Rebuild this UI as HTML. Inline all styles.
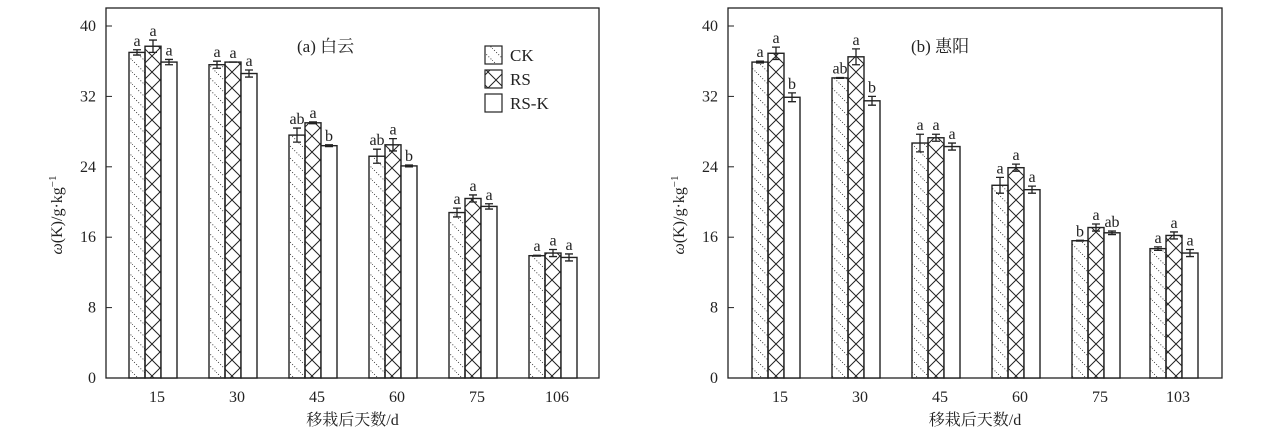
<!DOCTYPE html><html><head><meta charset="utf-8"><style>body{margin:0;background:#fff}svg{display:block}text{font-family:"Liberation Serif","Noto Serif CJK SC",serif;fill:#222}</style></head><body>
<svg id="s" width="1269" height="446" xmlns="http://www.w3.org/2000/svg">
<defs>
<pattern id="ck" patternUnits="userSpaceOnUse" width="12" height="12"><line x1="0" y1="0" x2="12" y2="12" stroke="#333" stroke-width="0.9" stroke-dasharray="1 2"/></pattern>
<pattern id="rs" patternUnits="userSpaceOnUse" width="16" height="16" x="0" y="0"><path d="M0 0L16 16M16 0L0 16" stroke="#222" stroke-width="1"/></pattern>
</defs>
</svg>
<script>
const s=document.getElementById('s');let h='';
function chart(ax,right,centers,labels,data,title,tx){
 const y=v=>378-v*8.8;
 h+=`<rect x="${ax}" y="8" width="${right-ax}" height="370" fill="none" stroke="#222" stroke-width="1.3"/>`;
 for(let v=0;v<=40;v+=8){h+=`<line x1="${ax}" x2="${ax+6}" y1="${y(v)}" y2="${y(v)}" stroke="#222"/><text x="${ax-10}" y="${y(v)+5}" font-size="16" text-anchor="end">${v}</text>`;}
 h+=`<text x="${tx}" y="52" font-size="17">${title}</text>`;
 centers.forEach((c,i)=>{
  h+=`<text x="${c+4}" y="402" font-size="16" text-anchor="middle">${labels[i]}</text>`;
  data[i].forEach((d,j)=>{const[v,e,l]=d;const x=c-24+j*16;const fill=['url(#ck)','url(#rs)','#fff'][j];
   h+=`<rect x="${x}" y="${y(v)}" width="16" height="${378-y(v)}" fill="${fill}" stroke="#222" stroke-width="1.4"/>`;
   const cx=x+8;h+=`<path d="M${cx} ${y(v+e)}V${y(v-e)}M${cx-4} ${y(v+e)}H${cx+4}M${cx-4} ${y(v-e)}H${cx+4}" stroke="#222" stroke-width="1.3"/>`;
   h+=`<text x="${cx}" y="${y(v+e)-4}" font-size="16" text-anchor="middle">${l}</text>`;});
 });
 h+=`<text x="${(ax+right)/2}" y="425" font-size="16" text-anchor="middle">移栽后天数/d</text>`;
 h+=`<text transform="translate(${ax-44},215) rotate(-90)" font-size="16" text-anchor="middle"><tspan font-style="italic">ω</tspan>(K)/g·kg<tspan dy="-6" font-size="11">−1</tspan></text>`;
}
chart(106,599,[153,233,313,393,473,553],[15,30,45,60,75,106],[
[[37,0.3,'a'],[37.7,0.7,'a'],[35.9,0.3,'a']],
[[35.6,0.4,'a'],[35.9,0,'a'],[34.6,0.4,'a']],
[[27.6,0.8,'ab'],[29,0.1,'a'],[26.4,0.1,'b']],
[[25.2,0.8,'ab'],[26.5,0.7,'a'],[24.1,0.1,'b']],
[[18.8,0.5,'a'],[20.4,0.4,'a'],[19.5,0.3,'a']],
[[13.9,0.05,'a'],[14.2,0.4,'a'],[13.7,0.4,'a']]],'(a) 白云',297);
chart(728,1222,[776,856,936,1016,1096,1174],[15,30,45,60,75,103],[
[[35.9,0.1,'a'],[36.9,0.7,'a'],[31.9,0.5,'b']],
[[34.1,0.05,'ab'],[36.5,0.9,'a'],[31.5,0.5,'b']],
[[26.7,1,'a'],[27.3,0.4,'a'],[26.3,0.4,'a']],
[[21.9,0.9,'a'],[23.9,0.4,'a'],[21.4,0.4,'a']],
[[15.6,0.05,'b'],[17.1,0.4,'a'],[16.5,0.2,'ab']],
[[14.7,0.2,'a'],[16.2,0.4,'a'],[14.2,0.4,'a']]],'(b) 惠阳',911);
[['url(#ck)','CK',46],['url(#rs)','RS',70],['#fff','RS-K',94]].forEach(([f,t,yy])=>{h+=`<rect x="485" y="${yy}" width="17" height="18" fill="${f}" stroke="#222" stroke-width="1.2"/><text x="510" y="${yy+15}" font-size="17">${t}</text>`;});
s.insertAdjacentHTML('beforeend',h);
</script></body></html>
